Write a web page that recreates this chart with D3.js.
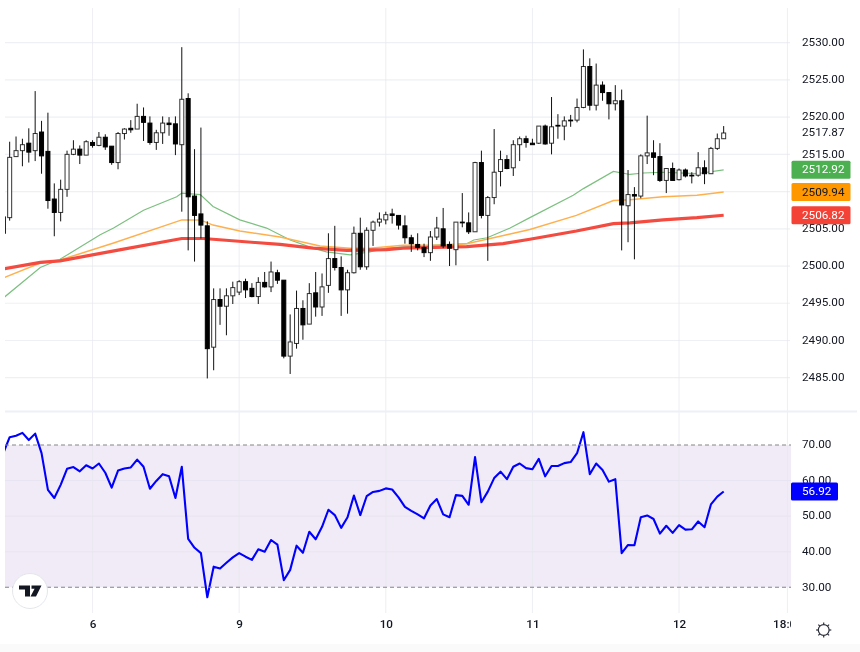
<!DOCTYPE html>
<html><head><meta charset="utf-8">
<script src="https://cdn.jsdelivr.net/npm/d3@7"></script>
<style>
html,body{margin:0;padding:0;background:#fff;}
svg{display:block;filter:blur(0.35px);}
text{font-family:Roboto,"Noto Sans",sans-serif;}
</style></head><body>
<svg id="c" width="860" height="652"></svg>
<script>
// Candle data: the first entry is the candle clipped at the left edge
const opens=[2506.6,2506.5,2514.7,2515.5,2516.5,2515.5,2518.0,2515.4,2509.0,2507.2,2510.3,2515.0,2515.7,2514.9,2516.6,2516.2,2517.3,2516.1,2513.9,2517.8,2518.5,2518.4,2520.1,2519.2,2516.6,2517.9,2519.2,2519.1,2516.3,2522.5,2509.4,2507.0,2505.4,2489.1,2495.5,2494.6,2496.0,2496.5,2497.9,2497.0,2495.9,2497.8,2497.2,2499.1,2498.1,2487.9,2489.6,2494.3,2492.2,2496.4,2494.5,2497.4,2501.0,2499.8,2496.8,2499.1,2504.4,2499.9,2504.8,2505.9,2506.2,2507.0,2506.8,2505.4,2503.8,2502.9,2502.5,2501.8,2503.9,2505.0,2502.9,2502.2,2505.9,2505.8,2504.6,2513.9,2506.8,2509.2,2512.7,2514.3,2513.2,2516.3,2517.1,2516.5,2516.5,2518.8,2516.5,2518.9,2518.8,2519.6,2519.6,2521.3,2526.8,2521.6,2524.3,2523.3,2521.8,2522.2,2508.1,2509.6,2509.4,2514.8,2515.2,2514.7,2511.5,2513.1,2511.6,2512.9,2512.2,2512.2,2513.2,2512.4,2515.8,2517.1];
const closes=[2504.4,2514.6,2515.5,2516.3,2515.3,2517.8,2514.8,2508.8,2507.2,2510.3,2515.0,2515.7,2514.9,2516.7,2516.2,2517.3,2516.0,2513.9,2517.8,2518.4,2518.3,2520.1,2519.3,2516.6,2517.9,2519.2,2519.0,2516.4,2522.4,2509.3,2506.8,2505.5,2488.9,2495.5,2494.6,2496.0,2497.1,2497.9,2496.8,2495.9,2497.8,2497.2,2499.2,2498.1,2487.9,2489.8,2494.3,2492.1,2496.3,2494.5,2497.2,2501.0,2499.8,2496.8,2499.1,2504.4,2499.9,2504.8,2505.9,2506.3,2506.9,2506.8,2505.5,2503.8,2503.0,2502.5,2501.8,2503.9,2505.1,2502.7,2502.4,2505.9,2505.8,2504.6,2513.9,2506.8,2509.2,2512.6,2514.3,2513.1,2516.3,2517.1,2516.6,2516.3,2518.8,2516.4,2518.7,2518.8,2519.5,2519.5,2521.3,2526.8,2521.6,2524.3,2523.3,2521.8,2522.2,2508.2,2509.6,2509.4,2514.8,2515.2,2514.6,2511.5,2513.1,2511.5,2512.9,2512.1,2512.1,2513.2,2512.4,2515.8,2517.1,2517.87];
const highs=[2506.9,2516.7,2517.4,2517.1,2518.5,2523.5,2519.5,2520.6,2511.1,2511.6,2515.5,2516.9,2516.2,2516.9,2516.9,2518.0,2517.7,2516.1,2518.0,2518.5,2519.6,2521.8,2521.3,2520.1,2518.3,2520.1,2520.0,2520.1,2529.4,2523.2,2515.7,2518.6,2506.0,2497.0,2497.0,2497.0,2497.9,2498.1,2498.3,2497.7,2498.5,2499.2,2500.6,2499.5,2498.1,2493.5,2496.7,2495.4,2497.7,2499.2,2499.0,2504.4,2505.4,2501.3,2499.5,2505.3,2506.5,2505.2,2506.1,2507.2,2507.3,2507.7,2506.8,2506.8,2504.2,2504.4,2503.0,2504.7,2506.6,2507.8,2503.3,2505.9,2509.8,2507.2,2514.0,2515.5,2509.4,2518.4,2515.5,2514.9,2516.9,2517.4,2517.5,2517.1,2518.8,2519.0,2522.7,2520.4,2520.1,2520.3,2522.5,2529.1,2527.9,2527.2,2524.8,2523.3,2524.3,2523.7,2512.9,2510.6,2515.0,2520.2,2516.9,2516.5,2513.1,2513.9,2513.1,2513.1,2512.6,2515.3,2514.2,2516.0,2517.8,2518.8];
const lows=[2504.4,2506.1,2514.7,2513.4,2513.9,2514.1,2512.4,2507.7,2504.0,2506.0,2509.3,2514.9,2513.7,2514.9,2515.9,2516.1,2515.6,2513.6,2513.0,2517.0,2517.9,2518.4,2516.8,2516.3,2515.6,2516.4,2517.5,2514.9,2507.3,2502.1,2500.6,2503.7,2484.9,2486.0,2492.1,2490.7,2494.9,2496.1,2495.7,2495.8,2494.9,2497.1,2496.5,2497.6,2487.6,2485.5,2488.9,2490.1,2492.2,2493.2,2493.3,2496.4,2499.4,2493.3,2493.6,2499.0,2499.5,2499.5,2502.7,2505.3,2505.6,2505.7,2504.9,2503.0,2501.9,2502.1,2501.2,2500.7,2503.5,2502.4,2500.0,2500.1,2505.2,2504.3,2504.6,2506.4,2500.7,2508.3,2510.7,2513.0,2512.1,2514.1,2515.9,2516.3,2516.4,2516.3,2515.0,2517.1,2516.9,2518.7,2519.3,2521.2,2520.9,2520.9,2522.2,2519.7,2520.9,2502.1,2503.2,2500.9,2509.1,2513.7,2512.2,2511.3,2509.8,2511.5,2511.5,2511.9,2511.1,2512.0,2511.0,2512.4,2515.6,2517.1];
const firstCandleIndex=-1;

// Moving averages as readable knots: candle index, value
const ma200Idx=[-1,4.8,7.9,16.8,27,30.4,42.4,47.6,52.9,59.1,61.7,71.7,77.4,81.6,88.9,94.7,97.3,102.5,107.8,112];
const ma200Val=[2499.6,2500.5,2500.7,2502.1,2503.7,2503.7,2502.9,2502.4,2502.1,2502.2,2502.4,2502.6,2503.0,2503.6,2504.7,2505.7,2505.8,2506.2,2506.5,2506.82];
const ma100Idx=[-1,4.8,7.9,16.3,27,29.9,31.9,36.1,42.4,48.7,53.4,56.5,61.7,69,71.7,78.5,81.6,88.9,94.7,97.3,102.5,107.8,112];
const ma100Val=[2498.4,2500.4,2500.8,2503.1,2506.2,2506.2,2505.5,2504.7,2503.9,2502.7,2502.4,2502.4,2502.8,2502.8,2503.0,2504.3,2504.9,2506.8,2508.8,2508.9,2509.3,2509.5,2509.94];
const ma50Idx=[-1,4.8,7.9,14.2,16.3,21,26.2,27,29.9,31.9,36.1,40.3,44,47.6,49.7,53.4,56.5,59.1,64.4,71.7,72.8,74.9,78.5,81.6,88.4,90,94.7,97.3,99.4,102.5,107.8,112];
const ma50Val=[2495.7,2499.8,2500.9,2504.2,2505.1,2507.5,2509.3,2509.8,2509.6,2508.0,2506.2,2505.1,2503.5,2502.4,2501.9,2501.5,2501.9,2502.4,2502.7,2503.0,2503.5,2503.8,2505.1,2506.5,2509.5,2510.4,2512.7,2512.3,2512.5,2512.6,2512.4,2512.92];

// RSI values, one per candle
const rsi=[67.7,72.2,72.6,73.4,71.4,73.2,67.7,57.4,55.1,58.8,63.3,63.8,62.6,64.3,63.4,64.8,62.2,58.0,62.8,63.4,63.7,65.9,63.9,57.7,59.9,61.8,61.2,55.1,63.9,43.6,41.1,39.6,27.2,35.8,35.3,36.9,38.4,39.6,38.6,37.7,40.7,40.0,43.3,42.0,32.0,34.9,41.7,39.7,45.6,43.5,47.0,51.8,50.3,46.7,49.7,55.8,50.3,55.6,56.8,57.1,57.8,57.5,55.3,52.6,51.5,50.5,49.4,53.0,54.8,50.5,49.7,55.9,55.7,53.2,66.6,53.9,56.9,60.7,62.5,60.4,63.9,64.8,63.5,63.2,66.1,61.2,64.1,64.1,64.9,65.2,67.7,73.6,61.8,64.8,63.0,59.7,60.4,39.6,41.9,41.8,49.7,50.2,49.2,45.1,47.3,45.3,47.5,46.2,46.3,48.5,46.9,53.3,55.5,56.92];

// Ticks and labels
const priceTicks=[2530,2525,2520,2515,2510,2505,2500,2495,2490,2485];
const priceLabelTicks=[2530,2525,2520,2515,2505,2500,2495,2490,2485];
const rsiTicks=[70,60,50,40,30];
const rsiBand=[30,70];
const dayIdx=[13,36,59,82,105,122];
const dayLabels=["6","9","10","11","12","18:00"];
const lastPrice=2517.87;
const maLabels=[{v:2512.92,bg:"#4caf50",fg:"#fff"},{v:2509.94,bg:"#ff9800",fg:"#131722"},{v:2506.82,bg:"#f44336",fg:"#fff"}];
const rsiLast=56.92;

const L=5,R=790,TOP=8,AXB=613;
const svg=d3.select("#c");
const x=d3.scaleLinear().domain([0,112]).range([9.67,723.67]);
const y=d3.scaleLinear().domain([2485,2530]).range([377.7,42.7]);
const yr=d3.scaleLinear().domain([30,70]).range([587.3,445]);
const fmt=d3.format(".2f");
const defs=svg.append("defs");
defs.append("clipPath").attr("id","plot").append("rect").attr("x",L).attr("y",0).attr("width",R-L).attr("height",652);
defs.append("clipPath").attr("id","axisclip").append("rect").attr("x",0).attr("y",612).attr("width",791).attr("height",40);

const gridCol="#eef0f3";
// Faint strip at the bottom of the screenshot
svg.append("rect").attr("x",0).attr("y",644).attr("width",860).attr("height",8).attr("fill","#fafafa");
// RSI band
svg.append("rect").attr("x",L).attr("width",791-L).attr("y",yr(rsiBand[1])).attr("height",yr(rsiBand[0])-yr(rsiBand[1])).attr("fill","#f0ebf6");

// Gridlines
svg.append("g").selectAll("line").data(priceTicks).join("line")
  .attr("x1",L).attr("x2",R).attr("y1",d=>y(d)).attr("y2",d=>y(d)).attr("stroke",gridCol).attr("stroke-width",1.2);
svg.append("g").selectAll("line").data([60,50,40]).join("line")
  .attr("x1",L).attr("x2",791).attr("y1",d=>yr(d)).attr("y2",d=>yr(d)).attr("stroke","#e9e4f0").attr("stroke-width",1);
svg.append("g").selectAll("line").data(dayIdx).join("line")
  .attr("x1",d=>x(d)).attr("x2",d=>x(d)).attr("y1",TOP).attr("y2",AXB).attr("stroke","#e6e8ee").attr("stroke-width",.9).attr("opacity",.8);
// Pane separator
svg.append("line").attr("x1",L).attr("x2",857).attr("y1",411.6).attr("y2",411.6).attr("stroke","#eef0f6").attr("stroke-width",2);

const plot=svg.append("g").attr("clip-path","url(#plot)");
const lineOf=(xs,vs)=>d3.line().x(d=>x(d)).y((d,i)=>y(vs[i])).curve(d3.curveLinear)(xs);
plot.append("path").attr("d",lineOf(ma50Idx,ma50Val)).attr("fill","none").attr("stroke","#7cc07f").attr("stroke-width",1.2);
plot.append("path").attr("d",lineOf(ma100Idx,ma100Val)).attr("fill","none").attr("stroke","#ffb04d").attr("stroke-width",1.5);
plot.append("path").attr("d",lineOf(ma200Idx,ma200Val)).attr("fill","none").attr("stroke","#f44b40").attr("stroke-width",3.2);

// Candles
const idx=d3.range(opens.length);
const cx=i=>x(i+firstCandleIndex);
const c=plot.append("g").selectAll("g").data(idx).join("g");
c.append("line").attr("x1",i=>cx(i)).attr("x2",i=>cx(i)).attr("y1",i=>y(highs[i])).attr("y2",i=>y(lows[i])).attr("stroke","#111").attr("stroke-width",1);
c.append("rect").attr("x",i=>cx(i)-2).attr("width",4)
  .attr("y",i=>y(Math.max(opens[i],closes[i])))
  .attr("height",i=>Math.max(.6,Math.abs(y(opens[i])-y(closes[i]))))
  .attr("fill",i=>closes[i]>=opens[i]?"#fff":"#000")
  .attr("stroke","#000").attr("stroke-width",1).attr("stroke-opacity",i=>closes[i]>=opens[i]?.8:1);

// RSI band limits and line
svg.append("g").selectAll("line").data(rsiBand).join("line")
  .attr("x1",L).attr("x2",791).attr("y1",d=>yr(d)).attr("y2",d=>yr(d)).attr("stroke","#85858c").attr("stroke-width",1.1).attr("stroke-dasharray","4 3");
plot.append("path").attr("d",d3.line().x((d,i)=>cx(i)).y(d=>yr(d))(rsi)).attr("fill","none").attr("stroke","#0000ff").attr("stroke-width",2.1).attr("stroke-linejoin","round");

// Price axis
const ax=d3.axisRight(y).tickValues(priceLabelTicks).tickFormat(fmt).tickSize(0).tickPadding(0);
const gx=svg.append("g").attr("transform","translate(802,-1.1)").call(ax);
gx.select(".domain").remove();
const arsi=d3.axisRight(yr).tickValues(rsiTicks).tickFormat(fmt).tickSize(0).tickPadding(0);
const gr=svg.append("g").attr("transform","translate(802,-1)").call(arsi);
gr.select(".domain").remove();
svg.selectAll(".tick text").attr("font-size",11.7).attr("fill","#131722").attr("font-family","Roboto,sans-serif");

// Time axis
const at=d3.axisBottom(x).tickValues(dayIdx).tickFormat((d,i)=>dayLabels[i]).tickSize(0).tickPadding(0);
const gt=svg.append("g").attr("clip-path","url(#axisclip)")
  .append("g").attr("transform","translate(0,620)").call(at);
gt.select(".domain").remove();
gt.selectAll("text").attr("font-size",11.7).attr("fill","#131722").attr("font-weight",500).attr("font-family","Roboto,sans-serif");

// Last price
svg.append("text").attr("x",802).attr("y",y(lastPrice)-0.8).attr("dy","0.34em").attr("font-size",11.7).attr("fill","#131722").text(fmt(lastPrice));

// MA tags
const tag=svg.append("g").selectAll("g").data(maLabels).join("g").attr("transform",d=>`translate(0,${y(d.v)})`);
tag.append("rect").attr("x",791.5).attr("y",-9).attr("width",59).attr("height",18).attr("rx",1.5).attr("fill",d=>d.bg);
tag.append("text").attr("x",802).attr("y",-0.5).attr("dy","0.35em").attr("font-size",11.7).attr("fill",d=>d.fg).text(d=>fmt(d.v));

// RSI tag
const rt=svg.append("g").attr("transform",`translate(0,${yr(rsiLast)})`);
rt.append("rect").attr("x",791).attr("y",-9).attr("width",47).attr("height",18).attr("rx",1.5).attr("fill","#0000ff");
rt.append("text").attr("x",802).attr("y",-0.5).attr("dy","0.35em").attr("font-size",11.7).attr("fill","#fff").text(fmt(rsiLast));

// TradingView mark
const logo=svg.append("g").attr("transform","translate(30,591)");
logo.append("circle").attr("r",17.5).attr("fill","#fff").attr("stroke","#e4e6ea").attr("stroke-width",1);
logo.append("path").attr("d","M-11,-5.5H0V5.5H-5V-1.5H-11Z M1.5,-5.5H11.5L6,5.5H0.5L4.6,-2.2H1.5Z").attr("fill","#131722");

// Settings icon: ring with eight rays
const gear=svg.append("g").attr("transform","translate(823.7,630)").attr("stroke","#2a2e39").attr("fill","none").attr("stroke-width",1.2);
gear.append("circle").attr("r",5.4);
gear.selectAll("line").data(d3.range(8)).join("line")
  .attr("x1",k=>5.4*Math.sin(k*Math.PI/4)).attr("y1",k=>-5.4*Math.cos(k*Math.PI/4))
  .attr("x2",k=>7.6*Math.sin(k*Math.PI/4)).attr("y2",k=>-7.6*Math.cos(k*Math.PI/4));
</script>
</body></html>
